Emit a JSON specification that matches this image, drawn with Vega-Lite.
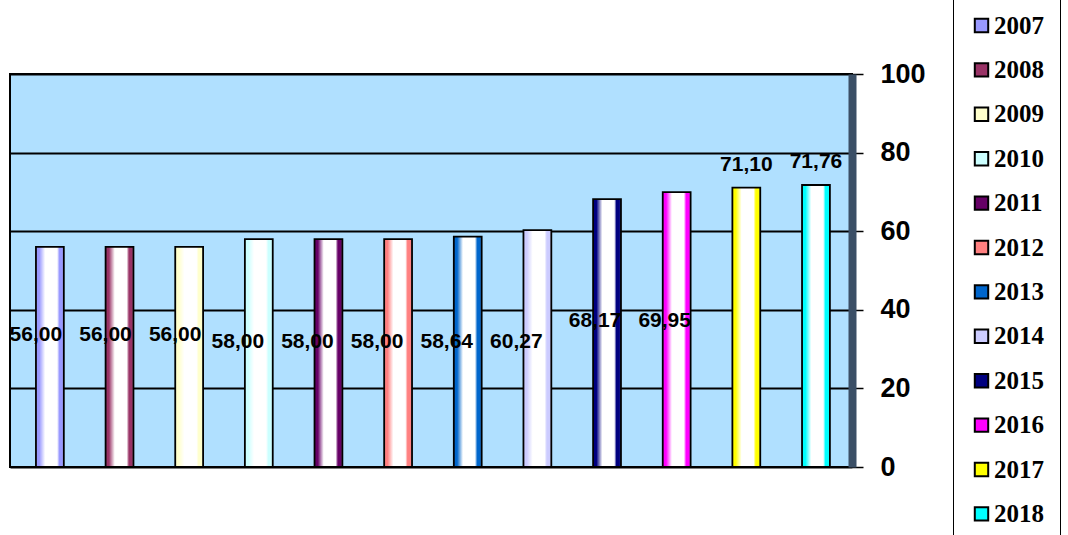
{
  "$schema": "https://vega.github.io/schema/vega-lite/v6.json",
  "autosize": "none",
  "width": 842,
  "height": 393,
  "padding": {"left": 10, "top": 74, "right": 216, "bottom": 68},
  "background": "white",
  "data": {
    "values": [
      {"year": "2007", "value": 56.00, "label": "56,00", "grp": "A"},
      {"year": "2008", "value": 56.00, "label": "56,00", "grp": "A"},
      {"year": "2009", "value": 56.00, "label": "56,00", "grp": "A"},
      {"year": "2010", "value": 58.00, "label": "58,00", "grp": "B"},
      {"year": "2011", "value": 58.00, "label": "58,00", "grp": "B"},
      {"year": "2012", "value": 58.00, "label": "58,00", "grp": "B"},
      {"year": "2013", "value": 58.64, "label": "58,64", "grp": "B"},
      {"year": "2014", "value": 60.27, "label": "60,27", "grp": "B"},
      {"year": "2015", "value": 68.17, "label": "68,17", "grp": "C"},
      {"year": "2016", "value": 69.95, "label": "69,95", "grp": "C"},
      {"year": "2017", "value": 71.10, "label": "71,10", "grp": "D"},
      {"year": "2018", "value": 71.76, "label": "71,76", "grp": "D"}
    ]
  },
  "encoding": {
    "x": {
      "field": "year", "type": "nominal", "sort": null, "axis": null,
      "scale": {"paddingInner": 0.6, "paddingOuter": 0.345, "align": 0.54}
    }
  },
  "layer": [
    {
      "mark": {"type": "bar"},
      "encoding": {
        "y": {
          "field": "value", "type": "quantitative",
          "scale": {"domain": [0, 100], "nice": false},
          "axis": {
            "orient": "right", "values": [0, 20, 40, 60, 80, 100], "title": null,
            "grid": true, "gridColor": "black", "gridWidth": 2, "gridOpacity": 1,
            "domain": true, "domainColor": "#3B4F66", "domainWidth": 8,
            "ticks": true, "tickColor": "black", "tickWidth": 1.5, "tickSize": 11,
            "labelPadding": 17, "labelFont": "Liberation Sans", "labelFontWeight": "bold",
            "labelFontSize": 27, "labelColor": "black"
          }
        },
        "color": {
          "field": "year", "type": "nominal", "sort": null,
          "scale": {
            "domain": ["2007","2008","2009","2010","2011","2012","2013","2014","2015","2016","2017","2018"],
            "range": ["#9999FF","#993366","#FFFFCC","#CCFFFF","#660066","#FF8080","#0066CC","#CCCCFF","#000080","#FF00FF","#FFFF00","#00FFFF"]
          },
          "legend": {
            "title": null, "orient": "none", "legendX": 943, "legendY": -77,
            "padding": 16, "strokeColor": "black",
            "symbolType": "square", "symbolSize": 180, "symbolStrokeColor": "black",
            "symbolStrokeWidth": 2, "symbolOpacity": 1,
            "labelFont": "Liberation Serif", "labelFontWeight": "bold", "labelFontSize": 25,
            "labelColor": "black", "labelOffset": 0, "rowPadding": 18.4
          }
        }
      }
    },
    {
      "mark": {
        "type": "bar", "stroke": "black", "strokeWidth": 1.8,
        "color": {
          "gradient": "linear", "x1": 0, "x2": 1, "y1": 0, "y2": 0,
          "stops": [
            {"offset": 0, "color": "rgba(255,255,255,0)"},
            {"offset": 0.12, "color": "rgba(255,255,255,0)"},
            {"offset": 0.33, "color": "rgba(255,255,255,1)"},
            {"offset": 0.76, "color": "rgba(255,255,255,1)"},
            {"offset": 0.84, "color": "rgba(255,255,255,0)"},
            {"offset": 0.94, "color": "rgba(255,255,255,0)"},
            {"offset": 1, "color": "rgba(255,255,255,0.3)"}
          ]
        }
      },
      "encoding": {
        "y": {"field": "value", "type": "quantitative"}
      }
    },
    {
      "transform": [{"filter": "datum.grp == 'A'"}],
      "mark": {"type": "text", "font": "Liberation Sans", "fontWeight": "bold", "fontSize": 21, "color": "black", "dx": -14, "baseline": "middle"},
      "encoding": {"y": {"datum": 33.6}, "text": {"field": "label"}}
    },
    {
      "transform": [{"filter": "datum.grp == 'B'"}],
      "mark": {"type": "text", "font": "Liberation Sans", "fontWeight": "bold", "fontSize": 21, "color": "black", "dx": -21, "baseline": "middle"},
      "encoding": {"y": {"datum": 31.8}, "text": {"field": "label"}}
    },
    {
      "transform": [{"filter": "datum.grp == 'C'"}],
      "mark": {"type": "text", "font": "Liberation Sans", "fontWeight": "bold", "fontSize": 21, "color": "black", "dx": -12, "baseline": "middle"},
      "encoding": {"y": {"datum": 37.2}, "text": {"field": "label"}}
    },
    {
      "transform": [{"filter": "datum.grp == 'D'"}],
      "mark": {"type": "text", "font": "Liberation Sans", "fontWeight": "bold", "fontSize": 21, "color": "black", "dx": 0, "dy": -23, "baseline": "middle"},
      "encoding": {"y": {"field": "value", "type": "quantitative"}, "text": {"field": "label"}}
    }
  ],
  "config": {
    "view": {"fill": "#B0E0FF", "stroke": "black", "strokeWidth": 2}
  }
}
